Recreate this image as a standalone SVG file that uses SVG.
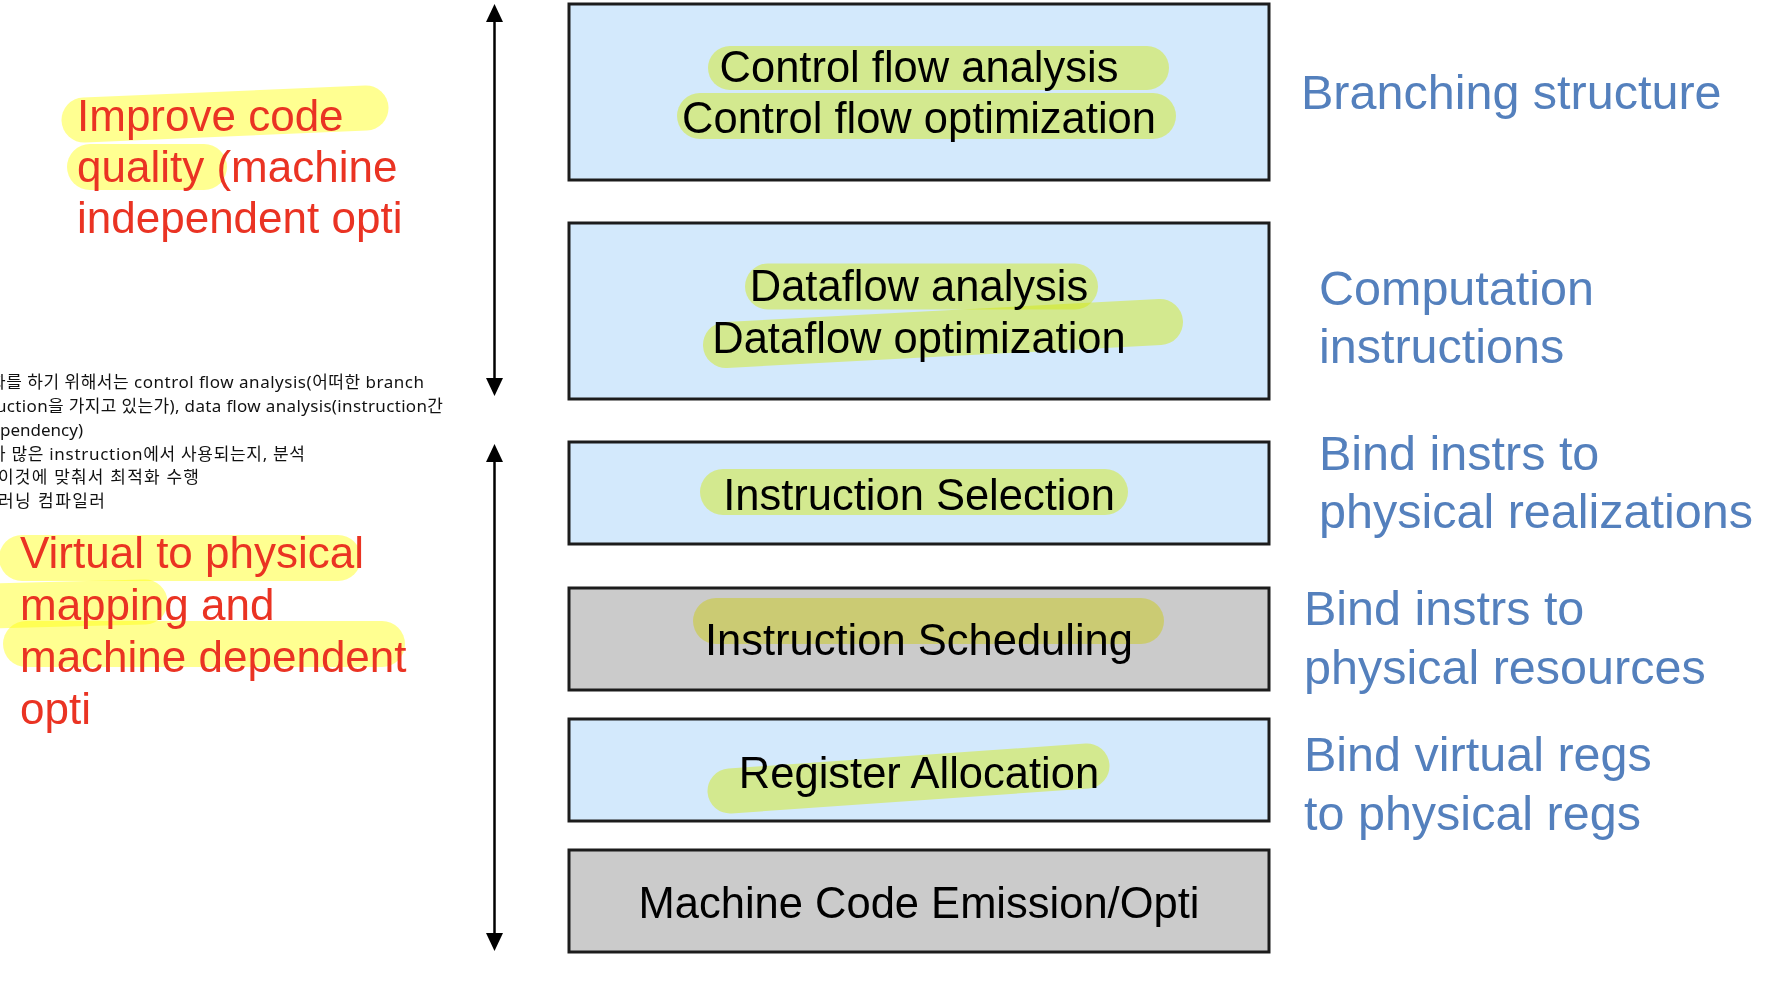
<svg xmlns="http://www.w3.org/2000/svg" width="1769" height="999" viewBox="0 0 1769 999">
<style>
.box{stroke:#1c1c1c;stroke-width:3}
.blue{fill:#d3e9fc}
.gray{fill:#cbcbcb}
.hl{fill:none;stroke:#ffff91;stroke-linecap:round;mix-blend-mode:multiply}
.bt{font-family:"Liberation Sans",Arial,sans-serif;font-size:43.5px;fill:#000;text-anchor:middle}
.rt{font-family:"Liberation Sans",Arial,sans-serif;font-size:48.5px;fill:#5480bd}
.red{font-family:"Liberation Sans",Arial,sans-serif;font-size:44px;fill:#ea3323}
.kr{font-family:"Noto Sans","Noto Sans CJK KR",sans-serif;font-size:17px;fill:#111}
.conn{stroke:#000;stroke-width:2.5;fill:none}
</style>
<defs>
<marker id="ah" markerUnits="userSpaceOnUse" markerWidth="18" markerHeight="17" refX="1" refY="8.5" orient="auto-start-reverse">
<path d="M0,0 L18,8.5 L0,17 Z" fill="#000"/>
</marker>
</defs>
<rect width="1769" height="999" fill="#fff"/>

<g id="connectors">
<line class="conn" x1="494.5" y1="21" x2="494.5" y2="379" marker-start="url(#ah)" marker-end="url(#ah)"/>
<line class="conn" x1="494.5" y1="461" x2="494.5" y2="934" marker-start="url(#ah)" marker-end="url(#ah)"/>
</g>

<g id="node-control-flow">
<rect class="box blue" x="569" y="4" width="700" height="176"/>
<path class="hl" stroke-width="44" d="M730,68 L1147,68"/>
<path class="hl" stroke-width="46" d="M700,116 L1153,116"/>
<text class="bt" x="919" y="82">Control flow analysis</text>
<text class="bt" x="919" y="133">Control flow optimization</text>
</g>

<g id="node-dataflow">
<rect class="box blue" x="569" y="223" width="700" height="176"/>
<path class="hl" stroke-width="46" d="M768,286.5 L1075,286.5"/>
<path class="hl" stroke-width="46" d="M726,345 L1160,322"/>
<text class="bt" x="919" y="301">Dataflow analysis</text>
<text class="bt" x="919" y="353">Dataflow optimization</text>
</g>

<g id="node-instruction-selection">
<rect class="box blue" x="569" y="442" width="700" height="102"/>
<path class="hl" stroke-width="46" d="M723,492 L1105,492"/>
<text class="bt" x="919" y="510">Instruction Selection</text>
</g>

<g id="node-instruction-scheduling">
<rect class="box gray" x="569" y="588" width="700" height="102"/>
<path class="hl" stroke-width="46" d="M716,621 L1141,621"/>
<text class="bt" x="919" y="655">Instruction Scheduling</text>
</g>

<g id="node-register-allocation">
<rect class="box blue" x="569" y="719" width="700" height="102"/>
<path class="hl" stroke-width="45" d="M730,791 L1087,766"/>
<text class="bt" x="919" y="788">Register Allocation</text>
</g>

<g id="node-machine-code">
<rect class="box gray" x="569" y="850" width="700" height="102"/>
<text class="bt" x="919" y="918">Machine Code Emission/Opti</text>
</g>

<g id="right-labels">
<text class="rt" x="1301" y="109">Branching structure</text>
<text class="rt" x="1319" y="305">Computation</text>
<text class="rt" x="1319" y="363">instructions</text>
<text class="rt" x="1319" y="470">Bind instrs to</text>
<text class="rt" x="1319" y="528">physical realizations</text>
<text class="rt" x="1304" y="625">Bind instrs to</text>
<text class="rt" x="1304" y="684">physical resources</text>
<text class="rt" x="1304" y="771">Bind virtual regs</text>
<text class="rt" x="1304" y="830">to physical regs</text>
</g>

<g id="left-note-top">
<path class="hl" stroke-width="45" d="M84,120 L366,108"/>
<path class="hl" stroke-width="46" d="M90,167 L204,167"/>
<text class="red" x="77" y="131">Improve code</text>
<text class="red" x="77" y="182">quality (machine</text>
<text class="red" x="77" y="233">independent opti</text>
</g>

<g id="left-note-korean">
<text class="kr" x="-10" y="388" textLength="434">화를 하기 위해서는 control flow analysis(어떠한 branch</text>
<text class="kr" x="-42" y="412" textLength="485">instruction을 가지고 있는가), data flow analysis(instruction간</text>
<text class="kr" x="-20" y="436" textLength="103">dependency)</text>
<text class="kr" x="-10" y="460" textLength="315">가 많은 instruction에서 사용되는지, 분석</text>
<text class="kr" x="-2" y="483" textLength="201">이것에 맞춰서 최적화 수행</text>
<text class="kr" x="-2" y="507" textLength="107">러닝 컴파일러</text>
</g>

<g id="left-note-bottom">
<path class="hl" stroke-width="46" d="M22,558 L338,558"/>
<path class="hl" stroke-width="45" d="M-5,606 L145,602"/>
<path class="hl" stroke-width="46" d="M26,644 L382,644"/>
<text class="red" x="20" y="568">Virtual to physical</text>
<text class="red" x="20" y="620">mapping and</text>
<text class="red" x="20" y="672">machine dependent</text>
<text class="red" x="20" y="724">opti</text>
</g>
</svg>
